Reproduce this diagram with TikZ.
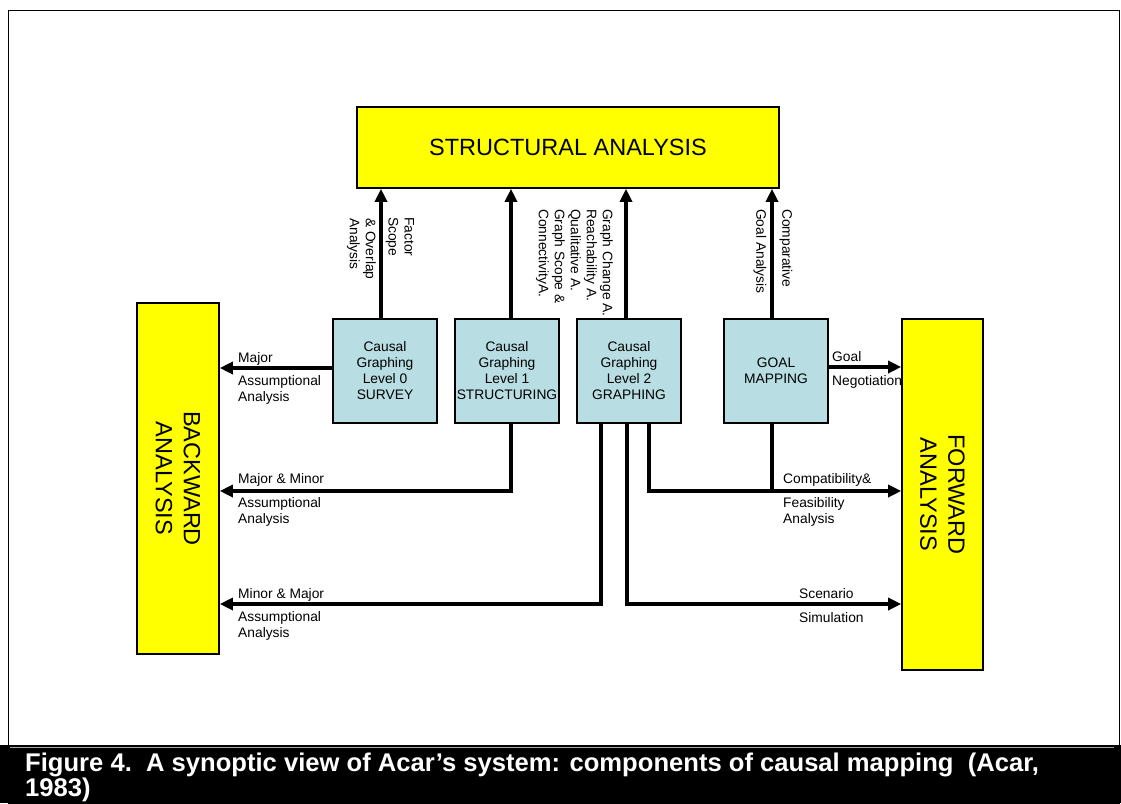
\documentclass[tikz,border=0pt]{standalone}
\usepackage{fontspec}
\setmainfont{Liberation Sans}
\usetikzlibrary{positioning,arrows.meta,calc}
\definecolor{boxblue}{RGB}{184,222,227}
\definecolor{boxyellow}{RGB}{255,255,0}

\begin{document}
\begin{tikzpicture}[
x=1pt,y=-1pt,
ybox/.style={
  draw,
  fill=boxyellow,
  line width=1.6pt,
  inner sep=0pt
},
bigtxt/.style={
  inner sep=0pt,
  align=center,
  font=\fontsize{23.5}{28}\selectfont
},
bbox/.style={
  draw,
  fill=boxblue,
  line width=1.6pt,
  outer sep=0pt,
  minimum width=104pt,
  minimum height=104pt,
  inner sep=0pt,
  align=center,
  font=\fontsize{13.8}{16}\selectfont
},
lbl/.style={
  inner sep=0pt,
  align=left,
  font=\fontsize{13.8}{16}\selectfont
},
vlbl/.style={
  lbl,
  rotate=-90,
  anchor=west
},
captxt/.style={
  inner sep=0pt,
  anchor=base west,
  text=white,
  font=\fontsize{25.6}{28}\selectfont\bfseries
},
ln/.style={line width=3.4pt},
arr/.style={line width=3.4pt,-{Triangle[length=13pt,width=12pt]}},
node distance=18pt
]
\useasboundingbox (0,0) rectangle (1121,803);
\draw[line width=0.8pt] (8,10) rectangle (1119,803);

\node[ybox,minimum width=422pt,minimum height=81pt,bigtxt] (sa) at (568,147.5)
  {STRUCTURAL ANALYSIS};
\node[ybox,minimum width=82pt,minimum height=351pt] (ba) at (178,478.5) {};
\node[bigtxt,rotate=-90] (batxt) at (ba) {BACKWARD\\ANALYSIS};
\node[ybox,minimum width=81pt,minimum height=351pt] (fa) at (942.5,494.5) {};
\node[bigtxt,rotate=-90] (fatxt) at (fa) {FORWARD\\ANALYSIS};

\node[bbox] (l0) at (385,371) {Causal\\Graphing\\Level 0\\SURVEY};
\node[bbox,right=of l0] (l1) {Causal\\Graphing\\Level 1\\STRUCTURING};
\node[bbox,right=of l1] (l2) {Causal\\Graphing\\Level 2\\GRAPHING};
\node[bbox,right=43pt of l2] (gm) {GOAL\\MAPPING};

\coordinate (h1) at (0,491);
\coordinate (h2) at (0,604);

\draw[arr] ([xshift=-4pt]l0.north) -- ([xshift=-4pt]l0.north |- sa.south);
\draw[arr] ([xshift=4pt]l1.north) -- ([xshift=4pt]l1.north |- sa.south);
\draw[arr] ([xshift=-3pt]l2.north) -- ([xshift=-3pt]l2.north |- sa.south);
\draw[arr] ([xshift=-4pt]gm.north) -- ([xshift=-4pt]gm.north |- sa.south);

\node[vlbl] (fs) at (400,217) {Factor\\Scope};
\node[vlbl] (oa) at (361.5,218) {\& Overlap\\Analysis};
\node[vlbl] (ga) at (574.5,209) {Graph Change A.\\Reachability A.\\Qualitative A.\\Graph Scope \&\\ConnectivityA.};
\node[vlbl] (cp) at (786,209) {Comparative};
\node[vlbl] (gl) at (760,209) {Goal Analysis};

\draw[arr] ([yshift=3pt]l0.west) -- ([yshift=3pt]l0.west -| ba.east);
\draw[arr] ([xshift=4pt]l1.south) |- (ba.east |- h1);
\draw[arr] ([xshift=-28pt]l2.south) |- (ba.east |- h2);
\draw[arr] ([yshift=4pt]gm.east) -- ([yshift=4pt]gm.east -| fa.west);
\draw[arr] ([xshift=20pt]l2.south) |- (fa.west |- h1);
\draw[ln] ([xshift=-4pt]gm.south) -- ([xshift=-4pt]gm.south |- h1);
\draw[arr] ([xshift=-2pt]l2.south) |- (fa.west |- h2);

\node[lbl,anchor=base west] (m1) at (238,362) {Major};
\node[lbl,anchor=north west] (a1) at (238,375) {Assumptional\\Analysis};
\node[lbl,anchor=base west] (m2) at (238,483) {Major \& Minor};
\node[lbl,anchor=north west] (a2) at (238,497) {Assumptional\\Analysis};
\node[lbl,anchor=base west] (m3) at (238,598) {Minor \& Major};
\node[lbl,anchor=north west] (a3) at (238,611) {Assumptional\\Analysis};
\node[lbl,anchor=base west] (gn1) at (832,361) {Goal};
\node[lbl,anchor=base west] (gn2) at (832,385) {Negotiation};
\node[lbl,anchor=base west] (cf1) at (783,483) {Compatibility\&};
\node[lbl,anchor=north west] (cf2) at (783,497) {Feasibility\\Analysis};
\node[lbl,anchor=base west] (sc1) at (799,598) {Scenario};
\node[lbl,anchor=base west] (sc2) at (799,622) {Simulation};

\fill[black] (0,745) rectangle (1121,803);
\draw[gray!70,line width=1pt] (10,747.5) -- (1114,747.5);
\node[captxt] (cap1) at (25,771)
  {Figure 4.\ \ A synoptic view of Acar’s system: components of causal mapping\ \ (Acar,};
\node[captxt] (cap2) at (25,796) {1983)};
\end{tikzpicture}
\end{document}
